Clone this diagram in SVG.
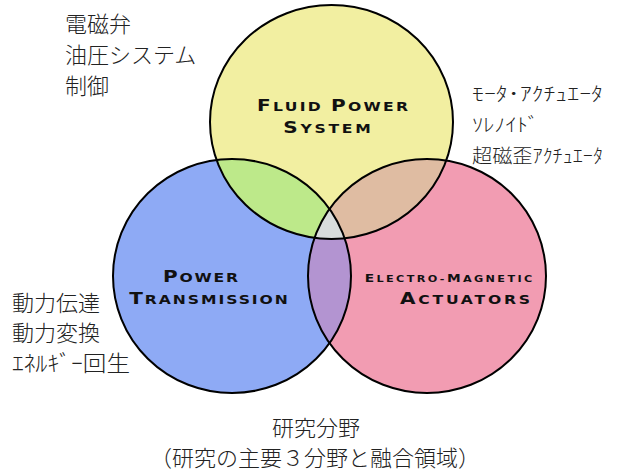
<svg xmlns="http://www.w3.org/2000/svg" width="639" height="473" viewBox="0 0 639 473">
<style>
.ol{fill:none;stroke:#000;stroke-width:2}
.jp{font-family:"Noto Sans CJK JP","Noto Sans",sans-serif;font-size:22px;font-weight:300;fill:#222}
.jr{font-family:"Noto Sans CJK JP","Noto Sans",sans-serif;font-size:19px;font-weight:300;fill:#222}
.en{font-family:"DejaVu Sans",sans-serif;font-weight:bold;fill:#111;text-anchor:middle}
</style>
<defs>
<clipPath id="cT"><ellipse cx="331.5" cy="122" rx="121.5" ry="117"/></clipPath>
<clipPath id="cL"><ellipse cx="232" cy="276" rx="119" ry="117"/></clipPath>
<clipPath id="cR"><ellipse cx="427" cy="276" rx="119" ry="117"/></clipPath>
</defs>
<rect width="639" height="473" fill="#fff"/>
<g id="fluid-power">
<ellipse cx="331.5" cy="122" rx="121.5" ry="117" fill="#f2efa1"/>
</g>
<g id="power-transmission">
<ellipse cx="232" cy="276" rx="119" ry="117" fill="#8eaaf5"/>
</g>
<g id="em-actuators">
<ellipse cx="427" cy="276" rx="119" ry="117" fill="#f29cb2"/>
</g>
<g id="overlaps">
<g clip-path="url(#cT)"><ellipse cx="232" cy="276" rx="119" ry="117" fill="#bde98a"/></g>
<g clip-path="url(#cT)"><ellipse cx="427" cy="276" rx="119" ry="117" fill="#dfbca2"/></g>
<g clip-path="url(#cL)"><ellipse cx="427" cy="276" rx="119" ry="117" fill="#b394d1"/></g>
<g clip-path="url(#cT)"><g clip-path="url(#cL)"><ellipse cx="427" cy="276" rx="119" ry="117" fill="#d8dcdc"/></g></g>
</g>
<g id="outlines">
<ellipse class="ol" cx="331.5" cy="122" rx="121.5" ry="117"/>
<ellipse class="ol" cx="232" cy="276" rx="119" ry="117"/>
<ellipse class="ol" cx="427" cy="276" rx="119" ry="117"/>
</g>
<g id="labels">
<g transform="translate(332.5 111) scale(1.25 1)"><text class="en" x="0" y="0" textLength="121" lengthAdjust="spacing"><tspan font-size="16">F</tspan><tspan font-size="12.5">LUID </tspan><tspan font-size="16">P</tspan><tspan font-size="12.5">OWER</tspan></text></g>
<g transform="translate(327 133) scale(1.25 1)"><text class="en" x="0" y="0" textLength="70" lengthAdjust="spacing"><tspan font-size="16">S</tspan><tspan font-size="12.5">YSTEM</tspan></text></g>
<g transform="translate(200.5 282) scale(1.25 1)"><text class="en" x="0" y="0" textLength="60" lengthAdjust="spacing"><tspan font-size="16">P</tspan><tspan font-size="12.5">OWER</tspan></text></g>
<g transform="translate(208.5 304) scale(1.25 1)"><text class="en" x="0" y="0" textLength="127" lengthAdjust="spacing"><tspan font-size="16">T</tspan><tspan font-size="12.5">RANSMISSION</tspan></text></g>
<g transform="translate(448.5 282) scale(1.25 1)"><text class="en" x="0" y="0" textLength="134" lengthAdjust="spacing"><tspan font-size="11">E</tspan><tspan font-size="9">LECTRO-</tspan><tspan font-size="11">M</tspan><tspan font-size="9">AGNETIC</tspan></text></g>
<g transform="translate(465 304) scale(1.25 1)"><text class="en" x="0" y="0" textLength="104" lengthAdjust="spacing"><tspan font-size="16">A</tspan><tspan font-size="12.5">CTUATORS</tspan></text></g>
</g>
<g id="notes-top-left">
<text class="jp" x="65" y="32">電磁弁</text>
<text class="jp" x="65" y="63">油圧システム</text>
<text class="jp" x="65" y="94">制御</text>
</g>
<g id="notes-right">
<text class="jr" x="472" y="101" textLength="131" lengthAdjust="spacingAndGlyphs">ﾓｰﾀ･ｱｸﾁｭｴｰﾀ</text>
<text class="jr" x="472" y="132" textLength="67" lengthAdjust="spacingAndGlyphs">ｿﾚﾉｲﾄﾞ</text>
<text class="jr" x="472" y="163" textLength="131" lengthAdjust="spacingAndGlyphs">超磁歪ｱｸﾁｭｴｰﾀ</text>
</g>
<g id="notes-left">
<text class="jp" x="12" y="311">動力伝達</text>
<text class="jp" x="12" y="341">動力変換</text>
<text class="jp" x="12" y="371" textLength="118" lengthAdjust="spacingAndGlyphs">ｴﾈﾙｷﾞｰ回生</text>
</g>
<g id="caption">
<text class="jp" x="316" y="436" text-anchor="middle" font-size="21">研究分野</text>
<text class="jp" x="315" y="466" text-anchor="middle" font-size="21.5">（研究の主要３分野と融合領域）</text>
</g>
</svg>
